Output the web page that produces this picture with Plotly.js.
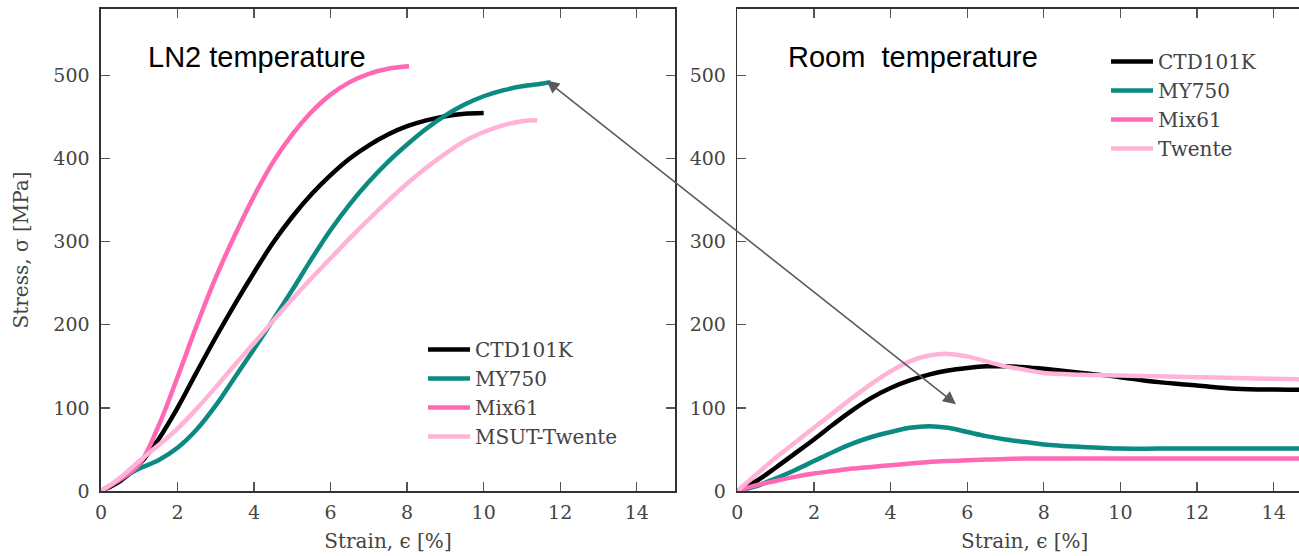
<!DOCTYPE html>
<html>
<head>
<meta charset="utf-8">
<script src="https://cdn.plot.ly/plotly-3.0.1.min.js"></script>
<style>
html,body{margin:0;padding:0;overflow:hidden;background:#fff;}
#chart{width:1299px;height:556px;overflow:hidden;}
</style>
</head>
<body>
<div id="chart"></div>
<script>
// ---- LN2 temperature (left panel) ----
const ctdLn2X   = [0,0.5,1,1.5,2,2.5,3,3.5,4,4.5,5,5.5,6,6.5,7,7.5,8,8.5,9,9.5,10];
const ctdLn2Y   = [0,12,32,62,100,143,185,225,263,299,330,357,380,400,416,429,439,446,451,454,455];
const my750Ln2X = [0,0.5,1,1.5,2,2.5,3,3.5,4,4.5,5,5.5,6,6.5,7,7.5,8,8.5,9,9.5,10,10.5,11,11.5,11.75];
const my750Ln2Y = [0,14,27,37,52,74,103,137,171,206,242,279,314,345,372,396,417,436,452,465,475,482,487,490,492];
const mixLn2X   = [0,0.5,1,1.5,2,2.5,3,3.5,4,4.5,5,5.5,6,6.5,7,7.5,8.05];
const mixLn2Y   = [0,14,32,78,137,199,257,308,355,396,429,456,477,492,502,508,511];
const twLn2X    = [0,0.5,1,1.5,2,2.5,3,3.5,4,4.5,5,5.5,6,6.5,7,7.5,8,8.5,9,9.5,10,10.5,11,11.4];
const twLn2Y    = [0,16,36,55,75,99,125,152,178,205,231,256,280,304,327,349,370,389,406,421,432,440,445,446];

// ---- Room temperature (right panel) ----
const rtX       = [0,0.5,1,1.5,2,2.5,3,3.5,4,4.5,5,5.5,6,6.5,7,7.5,8,9,10,11,12,13,14,15];
const ctdRtY    = [0,12,28,45,62,80,97,112,124,133,140,145,148,150,150,149,147,142,137,131,127,123,122,122];
const my750RtY  = [0,6,15,25,36,47,57,65,71,76,78,76,71,66,62,59,56,53,51,51,51,51,51,51];
const mixRtY    = [0,7,12,17,21,24,27,29,31,33,35,36,37,38,38.5,39,39,39,39,39,39,39,39,39];
const twRtY     = [0,20,40,58,76,94,112,129,144,156,163,165,162,156,150,146,142,140,139,138,137,136,135,134];

// ---- labels ----
const ln2Names = ['CTD101K','MY750','Mix61','MSUT-Twente'];
const rtNames  = ['CTD101K','MY750','Mix61','Twente'];
const colors   = ['#000000','#0b8a82','#ff69b4','#ffb3d6'];
const xTicks   = [0,2,4,6,8,10,12,14];
const yTicks   = [0,100,200,300,400,500];
const xTitle   = 'Strain, ϵ [%]';
const yTitle   = 'Stress, σ [MPa]';
const panelLabels = ['LN2 temperature','Room\u00a0\u00a0temperature'];

const lw = 4.5;
const ln2Data = [[ctdLn2X,ctdLn2Y],[my750Ln2X,my750Ln2Y],[mixLn2X,mixLn2Y],[twLn2X,twLn2Y]];
const rtData  = [ctdRtY,my750RtY,mixRtY,twRtY];

const traces = [];
ln2Data.forEach((d,i)=>{
  traces.push({x:d[0], y:d[1], type:'scatter', mode:'lines', name:ln2Names[i],
    line:{color:colors[i], width:lw, shape:'spline', smoothing:1}, xaxis:'x', yaxis:'y', legend:'legend'});
});
rtData.forEach((yy,i)=>{
  traces.push({x:rtX, y:yy, type:'scatter', mode:'lines', name:rtNames[i],
    line:{color:colors[i], width:lw, shape:'spline', smoothing:1}, xaxis:'x2', yaxis:'y2', legend:'legend2'});
});

const tickFont = {family:'DejaVu Serif', size:19, color:'#444'};
const titleFont = {family:'DejaVu Serif', size:20, color:'#444'};
const legFont = {family:'DejaVu Serif', size:20, color:'#444'};

function xax(domain, anchor){
  return {domain:domain, anchor:anchor, range:[0,15], tickvals:xTicks, ticks:'inside', ticklen:9,
    tickwidth:1.3, tickcolor:'#555', showline:true, linecolor:'#333', linewidth:1.6, mirror:'ticks',
    showgrid:false, zeroline:false, tickfont:tickFont, ticklabelstandoff:4,
    title:{text:xTitle, font:titleFont, standoff:11}, fixedrange:true};
}
function yax(anchor, title){
  const a = {anchor:anchor, range:[0,580], tickvals:yTicks, ticks:'inside', ticklen:9,
    tickwidth:1.3, tickcolor:'#555', showline:true, linecolor:'#333', linewidth:1.6, mirror:'ticks',
    showgrid:false, zeroline:false, tickfont:tickFont, ticklabelstandoff:6, fixedrange:true};
  if (title) a.title = {text:title, font:titleFont, standoff:19};
  return a;
}

const W = 1320, ml = 101, mr = 8, mt = 9, mb = 65;
const pw = W - ml - mr, ph = 556 - mt - mb;
const px = v => (v - ml)/pw;
const py = v => (556 - mb - v)/ph;

const layout = {
  width: W, height: 556,
  margin:{l:ml, r:mr, t:mt, b:mb, pad:0},
  paper_bgcolor:'#fff', plot_bgcolor:'#fff',
  xaxis: xax([0, px(675)], 'y'),
  yaxis: yax('x', yTitle),
  xaxis2: xax([px(737.3), 1], 'y2'),
  yaxis2: yax('x2', null),
  legend:{x:px(423), y:py(330), xanchor:'left', yanchor:'top', bgcolor:'rgba(0,0,0,0)',
    font:legFont, borderwidth:0, itemwidth:42},
  legend2:{x:px(1106), y:py(42), xanchor:'left', yanchor:'top', bgcolor:'rgba(0,0,0,0)',
    font:legFont, borderwidth:0, itemwidth:42},
  annotations:[
    {xref:'paper', yref:'paper', x:px(146), y:py(57), xanchor:'left', yanchor:'middle',
     text:panelLabels[0], showarrow:false, font:{family:'Liberation Sans, Arial', size:29, color:'#000'}},
    {xref:'paper', yref:'paper', x:px(786), y:py(57), xanchor:'left', yanchor:'middle',
     text:panelLabels[1], showarrow:false, font:{family:'Liberation Sans, Arial', size:29, color:'#000'}},
    {xref:'x', yref:'y', x:11.64, y:494, axref:'pixel', ayref:'pixel', ax:411, ay:325,
     text:'', showarrow:true, arrowhead:2, startarrowhead:2, arrowside:'end+start',
     arrowsize:1.6, startarrowsize:1.6, arrowwidth:1.6, arrowcolor:'#5a5a5a', standoff:0, startstandoff:0}
  ],
  showlegend:true
};

Plotly.newPlot('chart', traces, layout, {staticPlot:true, displayModeBar:false});
</script>
</body>
</html>
